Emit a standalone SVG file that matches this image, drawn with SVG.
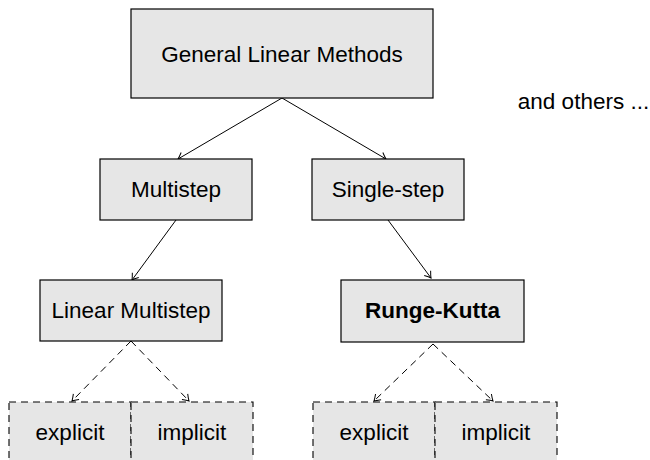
<svg xmlns="http://www.w3.org/2000/svg" width="650" height="460" viewBox="0 0 650 460">
<style>
.box{fill:#e6e6e6;stroke:#000;stroke-width:1.2}
.dbox{fill:#e6e6e6;stroke:#000;stroke-width:1.1;stroke-dasharray:7 5}
.t{font-family:"Liberation Sans",Arial,sans-serif;font-size:22.5px;fill:#000;text-anchor:middle}
.c{fill:none;stroke:#000;stroke-width:1}
.d{fill:none;stroke:#000;stroke-width:1;stroke-dasharray:7 5}
</style>
<defs>
<marker id="ah" viewBox="-7 -5 9 10" refX="0" refY="0" markerWidth="9" markerHeight="10" markerUnits="userSpaceOnUse" orient="auto">
<path d="M -6 -4 Q -2 -1 0 0 Q -2 1 -6 4" fill="none" stroke="#000" stroke-width="1"/>
</marker>
</defs>
<rect width="650" height="460" fill="#fff"/>
<g id="connectors">
<line class="c" x1="282" y1="98" x2="178" y2="159" marker-end="url(#ah)"/>
<line class="c" x1="282" y1="98" x2="386" y2="159" marker-end="url(#ah)"/>
<line class="c" x1="176" y1="220" x2="132" y2="280" marker-end="url(#ah)"/>
<line class="c" x1="388" y1="220" x2="431" y2="278" marker-end="url(#ah)"/>
<line class="d" x1="131" y1="341" x2="72" y2="401" marker-end="url(#ah)"/>
<line class="d" x1="131" y1="341" x2="189" y2="401" marker-end="url(#ah)"/>
<line class="d" x1="433" y1="344" x2="374" y2="401" marker-end="url(#ah)"/>
<line class="d" x1="433" y1="344" x2="493" y2="401" marker-end="url(#ah)"/>
</g>
<g id="glm"><rect class="box" x="131" y="9" width="302" height="89"/><text class="t" x="282" y="61.5">General Linear Methods</text></g>
<g id="multistep"><rect class="box" x="100" y="159" width="152" height="61"/><text class="t" x="176" y="196.5">Multistep</text></g>
<g id="singlestep"><rect class="box" x="312" y="159" width="152" height="61"/><text class="t" x="388" y="196.5">Single-step</text></g>
<g id="linmulti"><rect class="box" x="40" y="280" width="182" height="61"/><text class="t" x="131" y="317.5">Linear Multistep</text></g>
<g id="rk"><rect class="box" x="341" y="280" width="183" height="62" stroke-width="3.6"/><text class="t" x="432.5" y="317.5" font-weight="bold">Runge-Kutta</text></g>
<g id="lm-explicit"><rect class="dbox" x="9" y="402" width="122" height="62"/><text class="t" x="70" y="439.5">explicit</text></g>
<g id="lm-implicit"><rect class="dbox" x="131" y="402" width="122" height="62"/><text class="t" x="192" y="439.5">implicit</text></g>
<g id="rk-explicit"><rect class="dbox" x="313" y="402" width="122" height="62"/><text class="t" x="374" y="439.5">explicit</text></g>
<g id="rk-implicit"><rect class="dbox" x="435" y="402" width="122" height="62"/><text class="t" x="496" y="439.5">implicit</text></g>
<g id="others"><text class="t" x="583.5" y="109">and others ...</text></g>
</svg>
